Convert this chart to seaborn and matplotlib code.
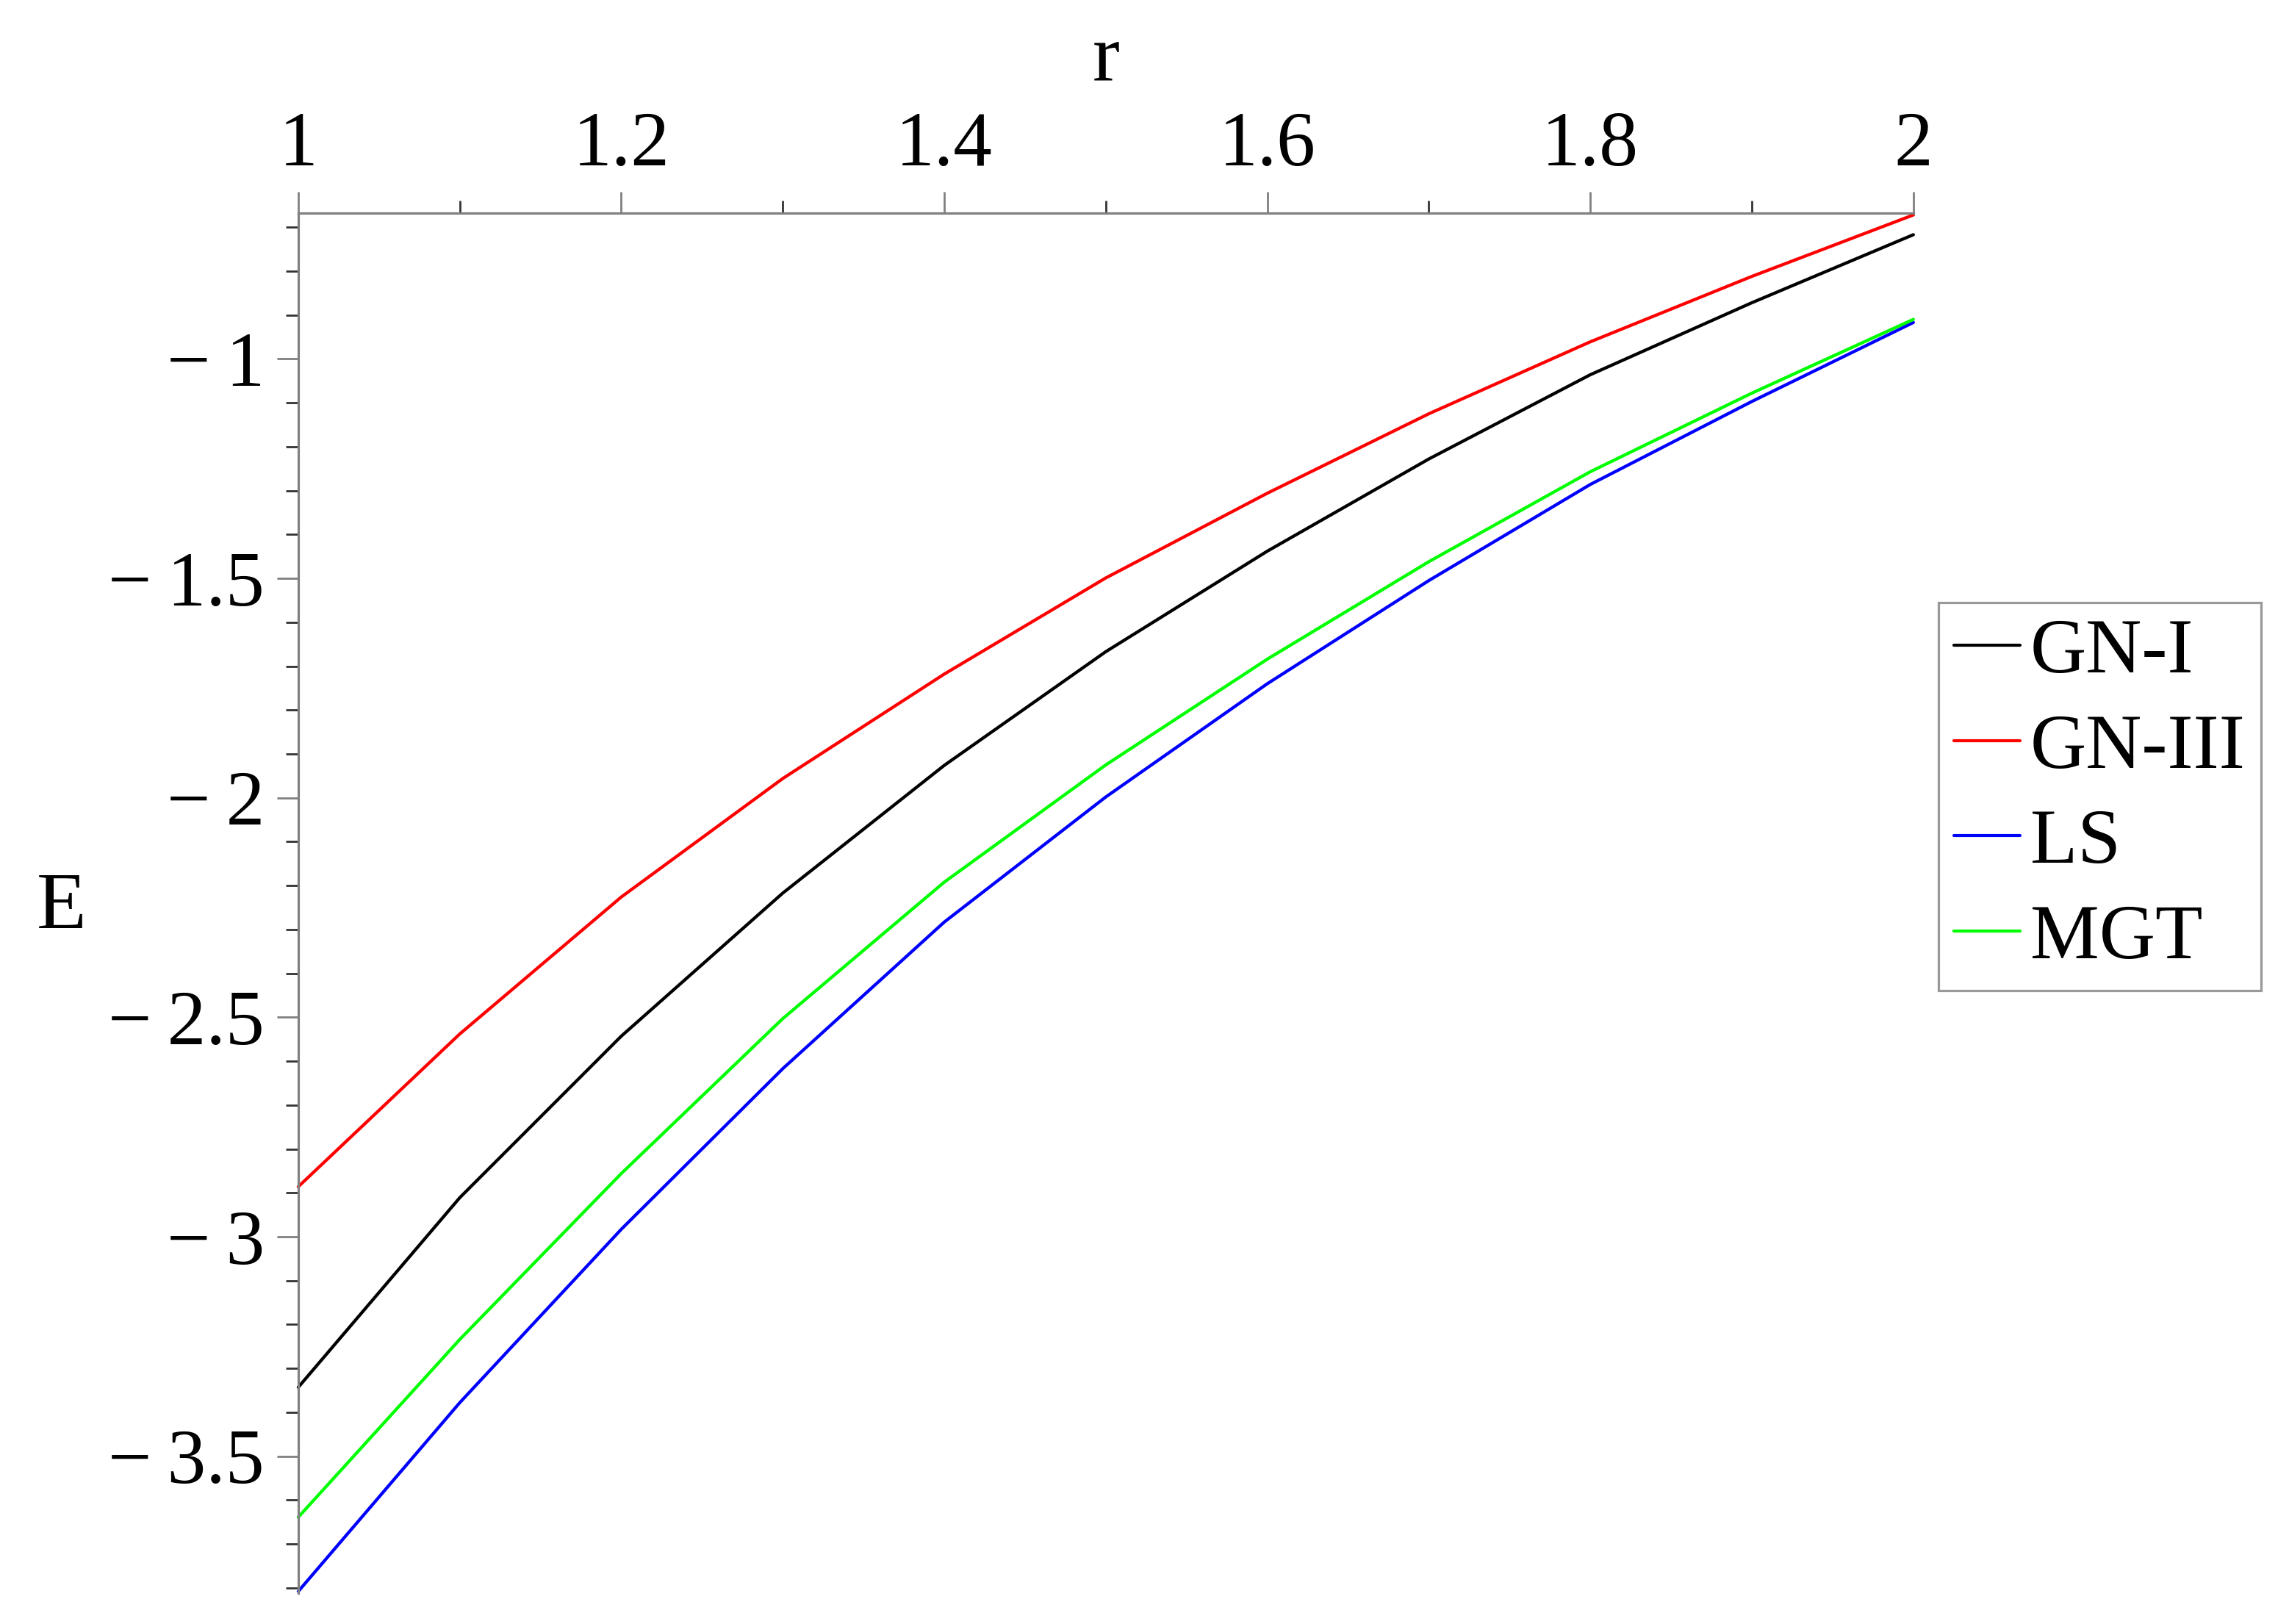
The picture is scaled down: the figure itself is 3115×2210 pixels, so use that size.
import numpy as np
import pandas as pd
import matplotlib
matplotlib.use("Agg")
import matplotlib.pyplot as plt
import seaborn as sns
from matplotlib import font_manager as fm
from matplotlib.ticker import MultipleLocator, FuncFormatter

# ---- data ----
r = [1.0, 1.1, 1.2, 1.3, 1.4, 1.5, 1.6, 1.7, 1.8, 1.9, 2.0]
E_GN_I   = [-3.343, -2.911, -2.543, -2.217, -1.926, -1.667, -1.438, -1.228, -1.036, -0.872, -0.717]
E_GN_III = [-2.886, -2.538, -2.226, -1.956, -1.718, -1.499, -1.306, -1.125, -0.961, -0.812, -0.672]
E_LS     = [-3.808, -3.378, -2.983, -2.617, -2.283, -1.998, -1.740, -1.505, -1.286, -1.097, -0.917]
E_MGT    = [-3.639, -3.234, -2.856, -2.503, -2.192, -1.925, -1.684, -1.462, -1.257, -1.078, -0.910]
series_names = ["GN-I", "GN-III", "LS", "MGT"]
series_colors = ["#000000", "#ff0000", "#0000ff", "#00ff00"]

df = pd.concat([
    pd.DataFrame({"r": r, "E": E_GN_I, "model": "GN-I"}),
    pd.DataFrame({"r": r, "E": E_GN_III, "model": "GN-III"}),
    pd.DataFrame({"r": r, "E": E_LS, "model": "LS"}),
    pd.DataFrame({"r": r, "E": E_MGT, "model": "MGT"}),
], ignore_index=True)

sns.set_style("white")

serif = "DejaVu Serif"
for cand in ["Liberation Serif", "Times New Roman", "Nimbus Roman", "DejaVu Serif"]:
    try:
        path = fm.findfont(fm.FontProperties(family=cand), fallback_to_default=False)
        if path:
            serif = cand
            break
    except Exception:
        continue

plt.rcParams["font.family"] = [serif, "DejaVu Serif"]
plt.rcParams["text.color"] = "black"
plt.rcParams["axes.labelcolor"] = "black"
plt.rcParams["xtick.color"] = "black"
plt.rcParams["ytick.color"] = "black"

FS = 76
DPI = 100
fig = plt.figure(figsize=(31.15, 22.10), dpi=DPI)
ax = fig.add_axes([0.1303, 0.019, 0.7056, 0.850])

sns.lineplot(data=df, x="r", y="E", hue="model", hue_order=series_names,
             palette=dict(zip(series_names, series_colors)), linewidth=3.1,
             ax=ax, legend=True, estimator=None, sort=True, clip_on=False)

ax.set_xlim(1.0, 2.0)
ax.set_ylim(-3.812, -0.667)

gray = "#808080"
for s in ["right", "bottom"]:
    ax.spines[s].set_visible(False)
for s in ["left", "top"]:
    ax.spines[s].set_visible(True)
    ax.spines[s].set_color(gray)
    ax.spines[s].set_linewidth(2.3)

ax.xaxis.tick_top()
ax.xaxis.set_major_locator(MultipleLocator(0.2))
ax.xaxis.set_minor_locator(MultipleLocator(0.1))
ax.yaxis.set_major_locator(MultipleLocator(0.5))
ax.yaxis.set_minor_locator(MultipleLocator(0.1))
ax.xaxis.set_major_formatter(FuncFormatter(lambda v, p: "%g" % round(v, 3)))
ax.yaxis.set_major_formatter(FuncFormatter(
    lambda v, p: ("\u2212\u2009" + "%g" % abs(round(v, 3))) if v < 0 else "%g" % round(v, 3)))

ax.tick_params(axis="both", which="major", direction="out", length=21, width=2.0,
               color=gray, labelsize=FS, labelcolor="black")
ax.tick_params(axis="both", which="minor", direction="out", length=12, width=2.0,
               color="#333333")
ax.tick_params(axis="x", which="both", top=True, bottom=False, labeltop=True,
               labelbottom=False, pad=9)
ax.tick_params(axis="y", which="both", left=True, right=False, pad=12)

ax.set_xlabel("r", fontsize=FS + 4, color="black")
ax.xaxis.set_label_position("top")
ax.xaxis.set_label_coords(0.5, 1.084)
ax.xaxis.label.set_va("bottom")
ax.set_ylabel("E", fontsize=FS + 4, rotation=0, color="black")
ax.yaxis.set_label_coords(-0.1465, 0.496)
ax.yaxis.label.set_va("center")
ax.yaxis.label.set_ha("center")

leg = ax.legend(loc="upper left", bbox_to_anchor=(0.8469, 0.629),
                bbox_transform=fig.transFigure, fontsize=FS, frameon=True,
                fancybox=False, handlelength=0.85, handletextpad=0.13,
                labelspacing=0.31, borderpad=0.2, borderaxespad=0.0, title=None)
leg.get_frame().set_edgecolor(gray)
leg.get_frame().set_linewidth(2.3)
for t in leg.get_texts():
    t.set_color("black")
for h in leg.get_lines():
    h.set_linewidth(3.0)

fig.savefig("out.png", dpi=DPI, facecolor="white")
